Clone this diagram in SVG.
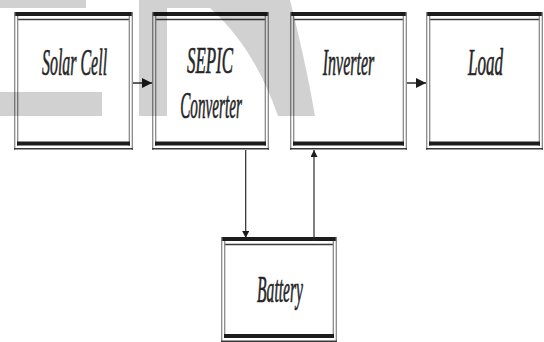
<svg xmlns="http://www.w3.org/2000/svg" width="544" height="342" viewBox="0 0 544 342">
<style>
  .bg{fill:#ffffff}
  .bar{fill:#1c1c1c}
  .thin{stroke:#3a3a3a;stroke-width:1.4;fill:none}
  .side{stroke:#8a8a8a;stroke-width:1.3;fill:none}
  .lbl{font-family:"Liberation Serif","DejaVu Serif",serif;font-style:italic;font-size:38px;fill:#262626;stroke:#262626;stroke-width:0.7;text-anchor:middle}
  .conn{stroke:#2a2a2a;stroke-width:1.5;fill:none}
  .wm{fill:#000;fill-opacity:0.18}
</style>
<defs>
  <marker id="ah" viewBox="0 0 10 10" refX="10" refY="5" markerWidth="7" markerHeight="7" orient="auto" markerUnits="userSpaceOnUse">
    <path d="M0,0 L10,5 L0,10 Z" fill="#1c1c1c"/>
  </marker>
  <marker id="ahs" viewBox="0 0 10 10" refX="10" refY="5" markerWidth="10" markerHeight="10" orient="auto" markerUnits="userSpaceOnUse">
    <path d="M0,0 L10,5 L0,10 Z" fill="#1c1c1c"/>
  </marker>
</defs>

<g id="solar-cell">
  <rect class="bg" x="14" y="12" width="119" height="138"/>
  <rect class="bar" x="14" y="12" width="119" height="4"/>
  <line class="thin" x1="17" y1="19.5" x2="130" y2="19.5"/>
  <line class="side" x1="14.7" y1="12" x2="14.7" y2="150"/>
  <line class="side" x1="17.7" y1="16" x2="17.7" y2="146"/>
  <line class="side" x1="132.3" y1="12" x2="132.3" y2="150"/>
  <line class="side" x1="129.3" y1="16" x2="129.3" y2="146"/>
  <rect class="bar" x="17" y="141.5" width="113" height="4"/>
  <line class="thin" x1="14" y1="148.8" x2="133" y2="148.8"/>
  <text class="lbl" transform="translate(74.5,75) scale(0.42,1)">Solar Cell</text>
</g>

<g id="sepic-converter">
  <rect class="bg" x="152" y="12" width="117" height="138"/>
  <rect class="bar" x="152" y="12" width="117" height="4"/>
  <line class="thin" x1="155" y1="19.5" x2="266" y2="19.5"/>
  <line class="side" x1="152.7" y1="12" x2="152.7" y2="150"/>
  <line class="side" x1="155.7" y1="16" x2="155.7" y2="146"/>
  <line class="side" x1="268.3" y1="12" x2="268.3" y2="150"/>
  <line class="side" x1="265.3" y1="16" x2="265.3" y2="146"/>
  <rect class="bar" x="155" y="141.5" width="111" height="4"/>
  <line class="thin" x1="152" y1="148.8" x2="269" y2="148.8"/>
  <text class="lbl" transform="translate(210,73) scale(0.445,1)">SEPIC</text>
  <text class="lbl" transform="translate(211,118) scale(0.4,1)">Converter</text>
</g>

<g id="inverter">
  <rect class="bg" x="290" y="12" width="117" height="138"/>
  <rect class="bar" x="290" y="12" width="117" height="4"/>
  <line class="thin" x1="293" y1="19.5" x2="404" y2="19.5"/>
  <line class="side" x1="290.7" y1="12" x2="290.7" y2="150"/>
  <line class="side" x1="293.7" y1="16" x2="293.7" y2="146"/>
  <line class="side" x1="406.3" y1="12" x2="406.3" y2="150"/>
  <line class="side" x1="403.3" y1="16" x2="403.3" y2="146"/>
  <rect class="bar" x="293" y="141.5" width="111" height="4"/>
  <line class="thin" x1="290" y1="148.8" x2="407" y2="148.8"/>
  <text class="lbl" transform="translate(348.5,75) scale(0.42,1)">Inverter</text>
</g>

<g id="load">
  <rect class="bg" x="426" y="12" width="117" height="138"/>
  <rect class="bar" x="426" y="12" width="117" height="4"/>
  <line class="thin" x1="429" y1="19.5" x2="540" y2="19.5"/>
  <line class="side" x1="426.7" y1="12" x2="426.7" y2="150"/>
  <line class="side" x1="429.7" y1="16" x2="429.7" y2="146"/>
  <line class="side" x1="542.3" y1="12" x2="542.3" y2="150"/>
  <line class="side" x1="539.3" y1="16" x2="539.3" y2="146"/>
  <rect class="bar" x="429" y="141.5" width="111" height="4"/>
  <line class="thin" x1="426" y1="148.8" x2="543" y2="148.8"/>
  <text class="lbl" transform="translate(485.5,75) scale(0.45,1)">Load</text>
</g>

<g id="battery">
  <rect class="bg" x="221" y="237" width="116" height="105"/>
  <rect class="bar" x="221" y="237" width="116" height="4"/>
  <line class="thin" x1="224" y1="244.5" x2="334" y2="244.5"/>
  <line class="side" x1="221.7" y1="237" x2="221.7" y2="342"/>
  <line class="side" x1="224.7" y1="241" x2="224.7" y2="338"/>
  <line class="side" x1="336.3" y1="237" x2="336.3" y2="342"/>
  <line class="side" x1="333.3" y1="241" x2="333.3" y2="338"/>
  <rect class="bar" x="224" y="334" width="110" height="4"/>
  <line class="thin" x1="221" y1="341.2" x2="337" y2="341.2"/>
  <text class="lbl" transform="translate(280,302) scale(0.41,1)">Battery</text>
</g>

<g id="connectors">
  <line class="conn" x1="133" y1="83" x2="152" y2="83" marker-end="url(#ahs)"/>
  <line class="conn" x1="407" y1="83" x2="426" y2="83" marker-end="url(#ahs)"/>
  <line class="conn" x1="245.7" y1="150" x2="245.7" y2="238" marker-end="url(#ah)" style="stroke-width:1.2"/>
  <line class="conn" x1="314" y1="241" x2="314" y2="150" marker-end="url(#ah)" style="stroke-width:1.2"/>
</g>

<g id="watermark">
  <rect class="wm" x="0" y="0" width="86" height="8"/>
  <rect class="wm" x="0" y="92" width="102" height="24"/>
  <path class="wm" d="M139,0 L290,0 C300,40 309,80 315,116 L278,116 C262,70 240,35 210,8 L167,8 L167,116 L139,116 Z"/>
</g>
</svg>
